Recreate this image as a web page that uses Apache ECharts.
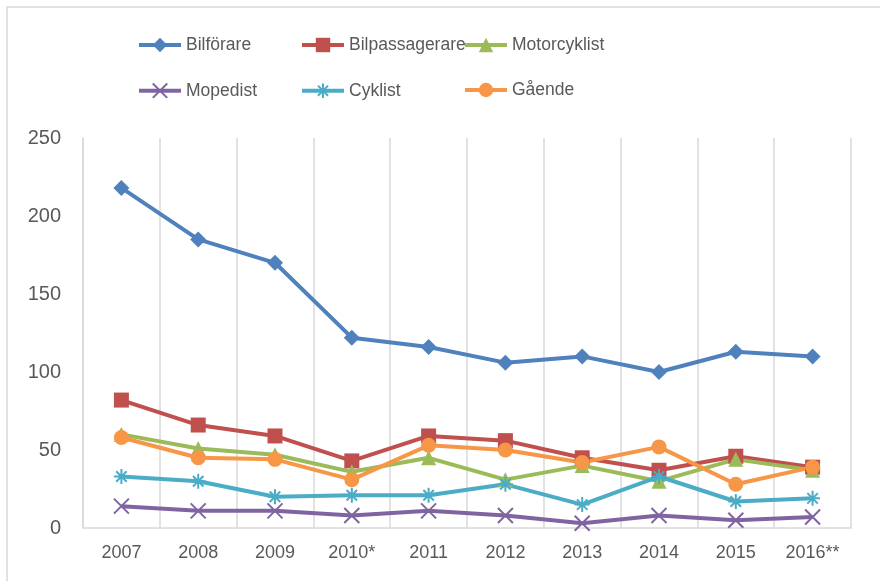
<!DOCTYPE html>
<html>
<head>
<meta charset="utf-8">
<script src="https://cdn.jsdelivr.net/npm/echarts@6/dist/echarts.min.js"></script>
<style>
  html, body { margin: 0; padding: 0; background: #fff; }
  #main { width: 880px; height: 581px; }
</style>
</head>
<body>
<div id="main"></div>
<script>
// kategorier (år)
const years = ['2007', '2008', '2009', '2010*', '2011', '2012', '2013', '2014', '2015', '2016**'];

// värden per trafikantgrupp
const bilforare = [218, 185, 170, 122, 116, 106, 110, 100, 113, 110];
const bilpassagerare = [82, 66, 59, 43, 59, 56, 45, 37, 46, 39];
const motorcyklist = [60, 51, 47, 36, 45, 31, 40, 30, 44, 37];
const mopedist = [14, 11, 11, 8, 11, 8, 3, 8, 5, 7];
const cyklist = [33, 30, 20, 21, 21, 28, 15, 33, 17, 19];
const gaende = [58, 45, 44, 31, 53, 50, 42, 52, 28, 39];

const yTicks = [0, 50, 100, 150, 200, 250];

const font = 'Liberation Sans';
const textColor = '#595959';
const gridColor = '#d9d9d9';

let myChart = echarts.init(document.getElementById('main'));

function line(name, data, color, symbol, size) {
  return {
    name: name,
    type: 'line',
    data: data,
    symbol: symbol,
    symbolSize: size,
    lineStyle: { width: 4, color: color },
    itemStyle: { color: color },
    emphasis: { disabled: true },
    z: 3
  };
}

// kryss- och stjärnsymboler som paths
const crossPath = 'path://M0,0 L10,10 M10,0 L0,10';
const starPath = 'path://M5,0 L5,10 M0,5 L10,5 M1.5,1.5 L8.5,8.5 M8.5,1.5 L1.5,8.5';

let seriesList = [
  line('Bilförare', bilforare, '#4F81BD', 'diamond', 16),
  line('Bilpassagerare', bilpassagerare, '#C0504D', 'rect', 15),
  line('Motorcyklist', motorcyklist, '#9BBB59', 'triangle', 15),
  line('Mopedist', mopedist, '#8064A2', crossPath, 15),
  line('Cyklist', cyklist, '#4BACC6', starPath, 15),
  line('Gående', gaende, '#F79646', 'circle', 15)
];
// kryss och stjärna ritas med streck
seriesList[3].itemStyle = { color: 'none', borderColor: '#8064A2', borderWidth: 2 };
seriesList[4].itemStyle = { color: 'none', borderColor: '#4BACC6', borderWidth: 2 };

// legend: en komponent per post för exakt placering
const legendPos = [
  { name: 'Bilförare', left: 132, top: 31 },
  { name: 'Bilpassagerare', left: 295, top: 31 },
  { name: 'Motorcyklist', left: 458, top: 31 },
  { name: 'Mopedist', left: 132, top: 76 },
  { name: 'Cyklist', left: 295, top: 76 },
  { name: 'Gående', left: 458, top: 76 }
];

let option = {
  animation: false,
  backgroundColor: '#fff',
  graphic: [{
    type: 'rect',
    shape: { x: 7, y: 7, width: 880, height: 600 },
    style: { fill: 'none', stroke: gridColor, lineWidth: 1.5 },
    silent: true
  }],
  legend: legendPos.map(p => ({
    data: [p.name],
    left: p.left,
    top: p.top,
    itemWidth: 42,
    itemHeight: 18,
    selectedMode: false,
    lineStyle: { width: 4 },
    textStyle: { fontFamily: font, fontSize: 17.5, color: textColor }
  })),
  grid: {
    left: 83,
    right: 29,
    top: 138,
    bottom: 53,
    containLabel: false
  },
  xAxis: {
    type: 'category',
    data: years,
    boundaryGap: true,
    axisLine: { show: true, lineStyle: { color: gridColor, width: 1.5 } },
    axisTick: { show: false },
    splitLine: { show: true, lineStyle: { color: gridColor, width: 1.5 } },
    axisLabel: {
      fontFamily: font,
      fontSize: 18,
      color: textColor,
      margin: 16,
      interval: 0
    }
  },
  yAxis: {
    type: 'value',
    min: yTicks[0],
    max: yTicks[yTicks.length - 1],
    interval: 50,
    axisLine: { show: true, lineStyle: { color: gridColor, width: 1.5 } },
    axisTick: { show: false },
    splitLine: { show: false },
    axisLabel: {
      fontFamily: font,
      fontSize: 20,
      color: textColor,
      margin: 22
    }
  },
  series: seriesList
};

myChart.setOption(option);
</script>
</body>
</html>
